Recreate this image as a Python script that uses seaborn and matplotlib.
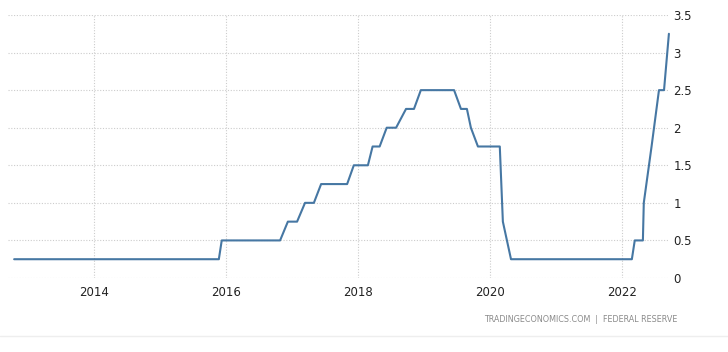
import pandas as pd
import matplotlib.pyplot as plt
import matplotlib.dates as mdates
from matplotlib.lines import Line2D
import seaborn as sns

# Fed funds rate (upper bound), vertices of the line
dates = ['2012-10-15', '2015-11-22', '2015-12-08', '2016-10-26', '2016-12-08',
         '2017-01-28', '2017-03-13', '2017-05-01', '2017-06-10', '2017-11-01',
         '2017-12-08', '2018-02-24', '2018-03-22', '2018-04-30', '2018-06-08',
         '2018-07-30', '2018-09-23', '2018-11-06', '2018-12-14', '2019-06-16',
         '2019-07-24', '2019-08-26', '2019-09-17', '2019-10-26', '2020-02-24',
         '2020-03-12', '2020-04-26', '2022-02-24', '2022-03-12', '2022-04-26',
         '2022-05-01', '2022-06-13', '2022-07-24', '2022-08-21', '2022-09-17']
rates = [0.25, 0.25, 0.5, 0.5, 0.75,
         0.75, 1.0, 1.0, 1.25, 1.25,
         1.5, 1.5, 1.75, 1.75, 2.0,
         2.0, 2.25, 2.25, 2.5, 2.5,
         2.25, 2.25, 2.0, 1.75, 1.75,
         0.75, 0.25, 0.25, 0.5, 0.5,
         1.0, 1.75, 2.5, 2.5, 3.25]
year_ticks = ['2014', '2016', '2018', '2020', '2022']
y_ticks = [0, 0.5, 1, 1.5, 2, 2.5, 3, 3.5]
y_labels = ['0', '0.5', '1', '1.5', '2', '2.5', '3', '3.5']
source = 'TRADINGECONOMICS.COM  |  FEDERAL RESERVE'

df = pd.DataFrame({'date': pd.to_datetime(dates), 'rate': rates})

sns.set_style('white')
plt.rcParams['font.family'] = ['DejaVu Sans']

fig = plt.figure(figsize=(7.28, 3.52), dpi=100)
ax = fig.add_axes([8 / 728, 1 - 278 / 352, 660 / 728, 263 / 352])

sns.lineplot(data=df, x='date', y='rate', ax=ax, color='#4677a3', linewidth=1.5,
             clip_on=False)

ax.set_xlim(pd.Timestamp('2012-09-11'), pd.Timestamp('2022-09-12'))
ax.set_ylim(0, 3.5)
ax.set_xticks(pd.to_datetime([y + '-01-01' for y in year_ticks]))
ax.xaxis.set_major_formatter(mdates.DateFormatter('%Y'))
ax.set_yticks(y_ticks)
ax.set_yticklabels(y_labels)
ax.yaxis.tick_right()
ax.tick_params(axis='both', length=0, labelsize=8.5, colors='#222222')
ax.tick_params(axis='y', pad=4)
ax.tick_params(axis='x', pad=6)
for lab in ax.get_yticklabels():
    lab.set_horizontalalignment('left')
ax.grid(True, color='#cccccc', linestyle=(0, (1, 1.5)), linewidth=0.8)
ax.set_axisbelow(True)
for s in ax.spines.values():
    s.set_visible(False)
ax.set_xlabel('')
ax.set_ylabel('')

fig.text(677 / 728, 1 - 320 / 352, source, ha='right', va='center',
         fontsize=5.8, color='#8a8a8a')
fig.add_artist(Line2D([0, 1], [1 - 336 / 352] * 2, color='#eeeeee', linewidth=1))

plt.savefig('out.png', dpi=100)
